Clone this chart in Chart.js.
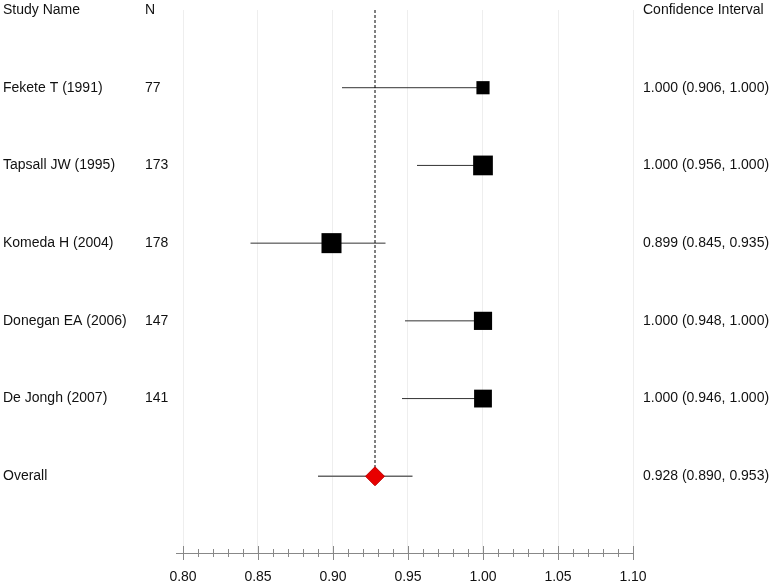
<!DOCTYPE html>
<html>
<head>
  <title>Forest plot</title>
  <script src="https://cdn.jsdelivr.net/npm/chart.js"></script>
  <style>
    body { margin: 0; background: #fff; }
    #wrap { width: 772px; height: 582px; position: relative; }
  </style>
</head>
<body>
  <div id="wrap"><canvas id="forest"></canvas></div>

  <script>
    // study data
    const studies = ['Fekete T (1991)', 'Tapsall JW (1995)', 'Komeda H (2004)', 'Donegan EA (2006)', 'De Jongh (2007)'];
    const sampleN = [77, 173, 178, 147, 141];
    const estimate = [1.000, 1.000, 0.899, 1.000, 1.000];
    const lower = [0.906, 0.956, 0.845, 0.948, 0.946];
    const upper = [1.000, 1.000, 0.935, 1.000, 1.000];

    const overallLabel = 'Overall';
    const overall = [0.928, 0.890, 0.953]; // estimate, lower, upper

    const xTicks = [0.80, 0.85, 0.90, 0.95, 1.00, 1.05, 1.10];

    const FONT_FAMILY = '"Liberation Sans", Arial, sans-serif';
    const rows = studies.map((s, i) => i + 1);
    const overallRow = studies.length + 1;

    const ciText = (e, l, u) => `${e.toFixed(3)} (${l.toFixed(3)}, ${u.toFixed(3)})`;

    const datasets = [];

    // overall diamond
    datasets.push({
      type: 'scatter',
      data: [{ x: overall[0], y: overallRow }],
      pointStyle: 'rectRot',
      pointRadius: 9.5,
      backgroundColor: '#e80000',
      borderColor: '#c00000',
      borderWidth: 1
    });

    // study squares, size from sample size
    datasets.push({
      type: 'scatter',
      data: studies.map((s, i) => ({ x: estimate[i], y: rows[i] })),
      pointStyle: 'rect',
      pointRadius: ctx => 1.5 * Math.sqrt(sampleN[ctx.dataIndex]) * Math.SQRT1_2,
      backgroundColor: '#000',
      borderWidth: 0
    });

    // dashed reference line at the overall estimate
    datasets.push({
      type: 'line',
      data: [{ x: overall[0], y: 0 }, { x: overall[0], y: overallRow }],
      borderColor: '#000',
      borderWidth: 1,
      borderDash: [3, 2],
      pointRadius: 0
    });

    // confidence interval lines
    studies.forEach((s, i) => {
      datasets.push({
        type: 'line',
        data: [{ x: lower[i], y: rows[i] }, { x: upper[i], y: rows[i] }],
        borderColor: '#333',
        borderWidth: 1,
        pointRadius: 0
      });
    });
    datasets.push({
      type: 'line',
      data: [{ x: overall[1], y: overallRow }, { x: overall[2], y: overallRow }],
      borderColor: '#666',
      borderWidth: 1.5,
      pointRadius: 0
    });

    const forestText = {
      id: 'forestText',
      afterDraw(chart) {
        const ctx = chart.ctx;
        const xs = chart.scales.x;
        const ys = chart.scales.y;
        ctx.save();

        // axis line with major / minor ticks
        const yAxis = Math.round(chart.chartArea.bottom) - 1;
        ctx.strokeStyle = '#888';
        ctx.lineWidth = 1;
        ctx.beginPath();
        ctx.moveTo(xs.getPixelForValue(xTicks[0]) - 7, yAxis + 0.5);
        ctx.lineTo(xs.getPixelForValue(xTicks[xTicks.length - 1]), yAxis + 0.5);
        for (let k = 0; k <= 30; k++) {
          const v = 0.80 + k * 0.01;
          const px = Math.round(xs.getPixelForValue(v)) + 0.5;
          const h = k % 5 === 0 ? 7 : 4;
          ctx.moveTo(px, yAxis - h);
          ctx.lineTo(px, yAxis + h);
        }
        ctx.stroke();

        // table text
        ctx.font = '14px ' + FONT_FAMILY;
        ctx.fillStyle = '#111';
        ctx.textBaseline = 'middle';
        ctx.textAlign = 'left';
        const y0 = ys.getPixelForValue(0);
        ctx.fillText('Study Name', 3, y0);
        ctx.fillText('N', 145, y0);
        ctx.fillText('Confidence Interval', 643, y0);
        studies.forEach((s, i) => {
          const y = ys.getPixelForValue(rows[i]);
          ctx.fillText(s, 3, y);
          ctx.fillText(String(sampleN[i]), 145, y);
          ctx.fillText(ciText(estimate[i], lower[i], upper[i]), 643, y);
        });
        const yo = ys.getPixelForValue(overallRow);
        ctx.fillText(overallLabel, 3, yo);
        ctx.fillText(ciText(overall[0], overall[1], overall[2]), 643, yo);
        ctx.restore();
      }
    };

    new Chart(document.getElementById('forest'), {
      data: { datasets },
      options: {
        responsive: true,
        maintainAspectRatio: false,
        animation: false,
        layout: { autoPadding: false, padding: { left: 183, right: 139, top: 10, bottom: 0 } },
        plugins: { legend: { display: false }, tooltip: { enabled: false } },
        scales: {
          x: {
            type: 'linear',
            min: 0.80,
            max: 1.10,
            afterBuildTicks: axis => { axis.ticks = xTicks.map(v => ({ value: v })); },
            afterFit: axis => { axis.height = 28; },
            ticks: {
              padding: 15,
              color: '#111',
              font: { family: FONT_FAMILY, size: 14 },
              callback: v => Number(v).toFixed(2),
              maxRotation: 0
            },
            grid: { color: '#eeeeee', drawTicks: false },
            border: { display: false }
          },
          y: {
            type: 'linear',
            reverse: true,
            min: 0,
            max: overallRow + 1,
            display: false
          }
        }
      },
      plugins: [forestText]
    });
  </script>
</body>
</html>
